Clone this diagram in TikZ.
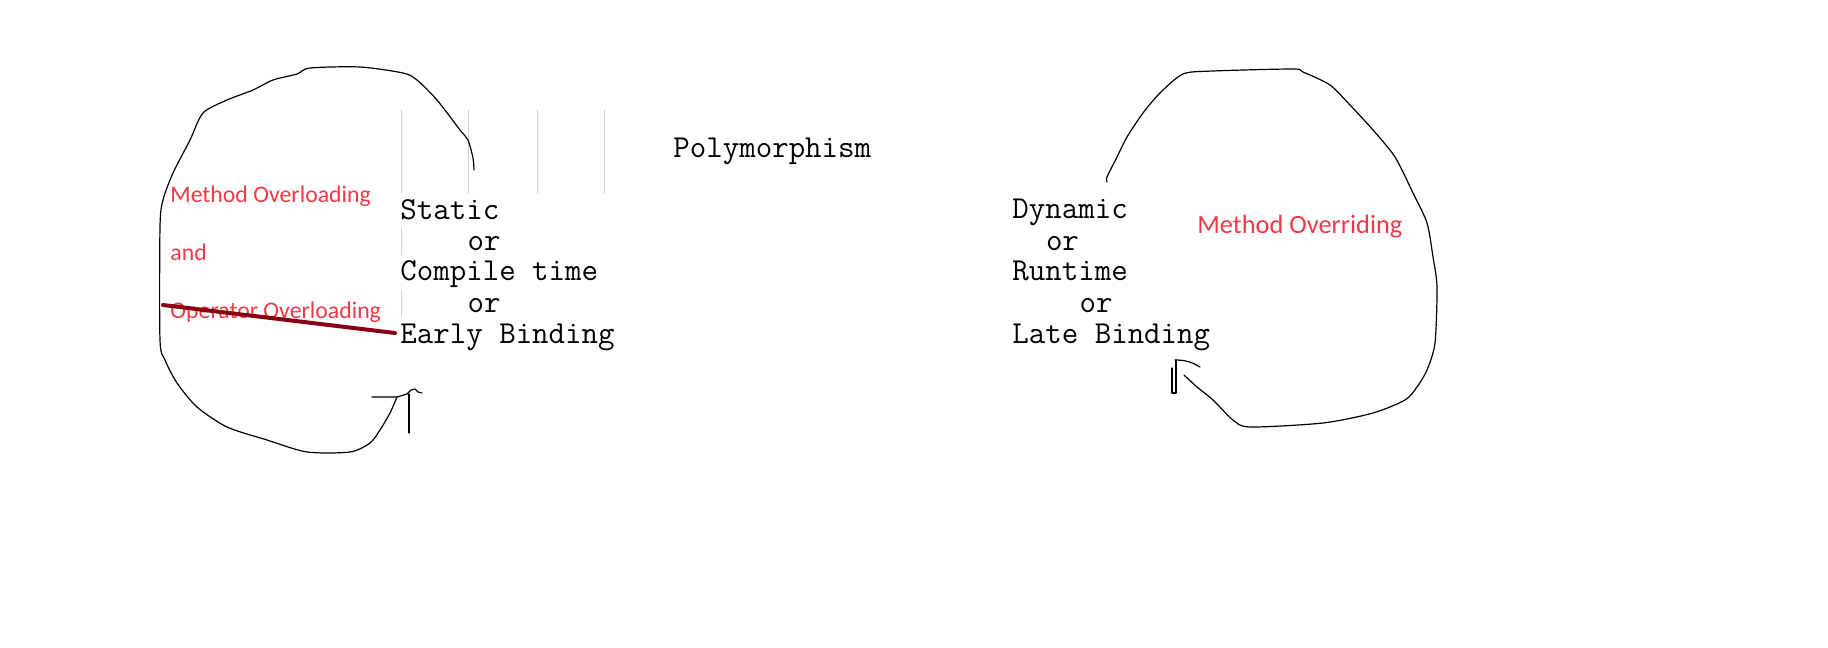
\documentclass[tikz,border=0pt]{standalone}
\usepackage{fontspec}
\newfontfamily\calibri{Carlito}
\definecolor{notered}{RGB}{238,58,72}
\definecolor{strikered}{RGB}{136,0,21}
\definecolor{guidegray}{RGB}{205,205,205}
\begin{document}
\begin{tikzpicture}[x=0.5pt,y=-0.5pt,line join=round,line cap=round]
	\tikzset{mono/.style={font=\ttfamily\fontsize{16}{18}\selectfont,inner sep=0pt,anchor=base west},
		note/.style={font=\calibri\fontsize{11.9}{14}\selectfont,text=notered,inner sep=0pt,anchor=base west},
		scribble/.style={line width=0.6pt},
		guide/.style={guidegray,line width=0.5pt,dash pattern=on 0.5pt off 0.5pt}}
	\useasboundingbox (0,0) rectangle (1828,648);
	% faint guides
	\foreach \x in {401,468,537,604}
	\draw[guide] (\x,110)--(\x,194);
	\draw[guide] (401,228)--(401,256);
	\draw[guide] (401,290)--(401,318);
	% title
	\node[mono] (poly) at (673,157) {Polymorphism};
	% static side
	\node[mono] (static) at (400,219) {Static};
	\node[mono] (or1) at (467.2,250) {or};
	\node[mono] (compile) at (400,280) {Compile time};
	\node[mono] (or2) at (467.2,312) {or};
	\node[mono] (early) at (400,343) {Early Binding};
	% dynamic side
	\node[mono] (dynamic) at (1012,218) {Dynamic};
	\node[mono] (or3) at (1045.6,250) {or};
	\node[mono] (runtime) at (1012,280) {Runtime};
	\node[mono] (or4) at (1079.2,312) {or};
	\node[mono] (late) at (1012,343) {Late Binding};
	% red notes
	\node[note] (overload) at (170,202) {Method Overloading};
	\node[note] (and) at (170,260) {and};
	\node[note] (opover) at (170,318) {Operator Overloading};
	\node[note,font=\calibri\fontsize{13.2}{15}\selectfont] (override) at (1197,233) {Method Overriding};
	\coordinate (cutA) at (163,305);
	\coordinate (cutB) at (395,333);
	\draw[strikered,line width=2pt] (cutA)--(cutB);
	% left loop
	\draw[scribble] plot[smooth,tension=0.45] coordinates {(474,170) (473,158) (468,140) (460,130) (437,100) (417,80) (403,73) (360,67) (310,68) (297,74) (273,80) (253,90) (227,100) (203,113) (190,140) (173,173) (163,200) (160,227) (160,340) (165,360) (177,383) (197,407) (227,427) (267,440) (307,452) (350,452) (370,443) (380,430) (390,413) (397,397)};
	\draw[scribble] (372,397)--(397,397)--(407,394)--(411,390)--(415,389)--(418,392)--(422,393);
	\draw[scribble] (409,394)--(409,433);
	% right loop
	\draw[scribble] plot[smooth,tension=0.45] coordinates {(1107,182) (1107,177) (1117,157) (1127,137) (1143,113) (1160,93) (1183,74) (1213,71) (1293,69) (1303,72) (1330,85) (1350,105) (1373,130) (1395,157) (1413,193) (1427,223) (1433,257) (1437,287) (1435,343) (1427,370) (1417,387) (1405,400) (1373,413) (1323,423) (1250,427) (1233,420) (1213,400) (1197,387) (1184,375)};
	\draw[scribble] (1175,360) .. controls (1185,360) and (1192,362) .. (1200,367);
	\draw[scribble] (1172,368)--(1172,393)--(1176,393)--(1176,360);
\end{tikzpicture}
\end{document}
